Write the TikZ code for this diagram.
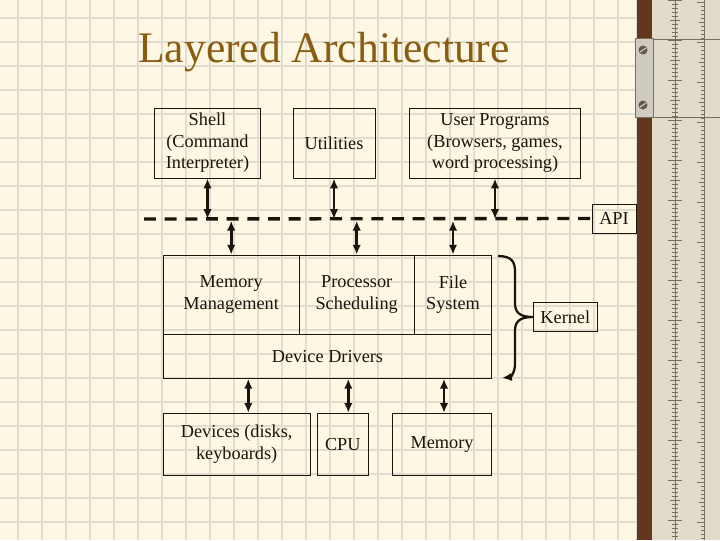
\documentclass[tikz,border=0pt]{standalone}
\usepackage{fontspec}
\setmainfont{Liberation Serif}
\usetikzlibrary{calc,arrows.meta,positioning}
\definecolor{paper}{RGB}{253,247,227}
\definecolor{gridline}{RGB}{224,220,208}
\definecolor{titlebrown}{RGB}{138,94,18}
\definecolor{ink}{RGB}{28,20,12}
\definecolor{rulerwood}{RGB}{100,54,30}
\definecolor{rulerface}{RGB}{226,218,203}
\definecolor{rulerclip}{RGB}{208,203,193}
\definecolor{rulertick}{RGB}{120,110,95}

\begin{document}
\begin{tikzpicture}[x=0.025cm,y=-0.025cm,
    box/.style={draw=ink,line width=0.7pt,inner sep=0pt,align=center,text=ink,
        font=\fontsize{13}{15.3}\selectfont},
    dbl/.style={{Latex[length=7pt,width=6pt]}-{Latex[length=7pt,width=6pt]},line width=1.9pt,draw=ink},
    apiline/.style={line width=2.4pt,draw=ink,dash pattern=on 8.5pt off 6.2pt}]
    \useasboundingbox (0,0) rectangle (720,540);

    % squared paper
    \fill[paper] (0,0) rectangle (720,540);
    \foreach \g in {0,...,25} {
        \draw[gridline,line width=1.4pt] (18+24*\g,0) -- (18+24*\g,540);
    }
    \foreach \g in {0,...,21} {
        \draw[gridline,line width=1.4pt] (0,18+24*\g) -- (636,18+24*\g);
    }

    % slide rule on the right
    \fill[rulerface] (652,0) rectangle (720,540);
    \fill[rulerwood] (636,0) rectangle (652,540);
    \draw[rulerclip!70!white,line width=1pt] (636.5,0) -- (636.5,540);
    \draw[rulertick,line width=0.5pt] (652,39) -- (720,39);
    \draw[rulertick,line width=0.5pt] (652,117) -- (720,117);
    \draw[rulertick,line width=0.4pt] (675,0) -- (675,540);
    \draw[rulertick,line width=0.4pt] (704,0) -- (704,540);
    \foreach \t in {0,...,134} {
        \pgfmathsetmacro\tl{ifthenelse(mod(\t,10)==0,7,ifthenelse(mod(\t,5)==0,5,3))}
        \draw[rulertick,line width=0.35pt] (675-\tl,4*\t) -- (675+\tl,4*\t);
        \draw[rulertick,line width=0.35pt] (704-\tl,4*\t+2) -- (704,4*\t+2);
    }
    % clip with its two screws
    \fill[rulerclip,draw=rulertick,line width=0.4pt] (635,38) rectangle (653,117);
    \foreach \s in {50,105} {
        \fill[rulertick!80!black] (643,\s) circle (4.5);
        \draw[rulerclip,line width=0.8pt] (640,\s+2) -- (646,\s-2);
    }

    % title
    \node[anchor=base west,text=titlebrown,font=\fontsize{31}{36}\selectfont,inner sep=0pt]
        (title) at (138,62) {Layered Architecture};

    % user level
    \node[box,minimum width=2.625cm,minimum height=1.75cm] (shell) at (207.5,143)
        {Shell\\(Command\\Interpreter)};
    \node[box,minimum width=2.05cm,minimum height=1.75cm] (util) at (334,143) {Utilities};
    \node[box,minimum width=4.25cm,minimum height=1.75cm] (user) at (495,143)
        {User Programs\\(Browsers, games,\\word processing)};

    % API
    \node[box,minimum width=1.1cm,minimum height=0.725cm] (api) at (614,218.5) {API};
    \coordinate (apistart) at (144,219);
    \draw[apiline] (apistart) -- (api.west);

    % kernel
    \node[box,minimum width=3.39cm,minimum height=1.98cm] (mem) at (231.2,294.7)
        {Memory\\Management};
    \node[box,minimum width=2.88cm,minimum height=1.98cm] (proc) at (356.7,294.7)
        {Processor\\Scheduling};
    \node[box,minimum width=1.935cm,minimum height=1.98cm] (fs) at (453,294.7)
        {File\\System};
    \node[box,minimum width=8.21cm,minimum height=1.1cm] (drv) at (327.5,356.3)
        {Device Drivers};
    \node[box,minimum width=1.6cm,minimum height=0.735cm] (kern) at (565.3,317) {Kernel};

    % hardware
    \node[box,minimum width=3.67cm,minimum height=1.54cm] (devs) at (236.7,444.2)
        {Devices (disks,\\keyboards)};
    \node[box,minimum width=1.275cm,minimum height=1.54cm] (cpu) at (342.8,444.2) {CPU};
    \node[box,minimum width=2.485cm,minimum height=1.54cm] (ram) at (442,444.2) {Memory};

    % arrows to and from the API
    \draw[dbl] (shell.south) -- (shell.south |- apistart);
    \draw[dbl] (util.south) -- (util.south |- apistart);
    \draw[dbl] (user.south) -- (user.south |- apistart);
    \draw[dbl,shorten <=1.2pt] (mem.north |- apistart) -- (mem.north);
    \draw[dbl,shorten <=1.2pt] (proc.north |- apistart) -- (proc.north);
    \draw[dbl,shorten <=1.2pt] (fs.north |- apistart) -- (fs.north);

    % arrows to the hardware
    \coordinate (hw1) at ($(devs.north)+(11.6,0)$);
    \coordinate (hw2) at ($(cpu.north)+(5.5,0)$);
    \coordinate (hw3) at ($(ram.north)+(2,0)$);
    \draw[dbl] (hw1 |- drv.south) -- (hw1);
    \draw[dbl] (hw2 |- drv.south) -- (hw2);
    \draw[dbl] (hw3 |- drv.south) -- (hw3);

    % brace round the kernel
    \draw[ink,line width=1.6pt,-{Latex[length=7pt,width=6pt]}]
        (498,256) .. controls (512,256) and (515,262) .. (515,272)
        -- (515,303) .. controls (515,312) and (519,317) .. (kern.west)
        (kern.west) .. controls (519,317) and (515,322) .. (515,331)
        -- (515,364) .. controls (515,372) and (511,377) .. (502,378);
\end{tikzpicture}
\end{document}
